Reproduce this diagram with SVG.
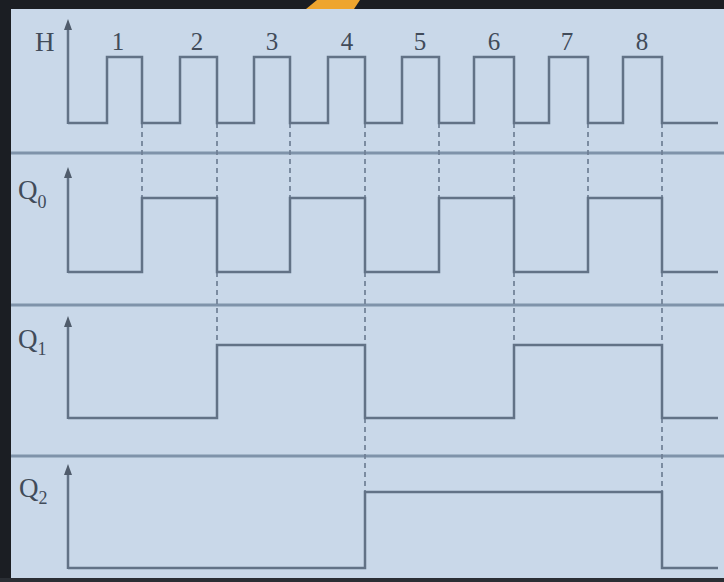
<svg xmlns="http://www.w3.org/2000/svg" width="724" height="582" viewBox="0 0 724 582">
<style>
.sig{fill:none;stroke:#627286;stroke-width:2.5;stroke-linejoin:miter}
.axis{fill:none;stroke:#627286;stroke-width:2.5}
.head{fill:#505c6c}
.sep{stroke:#7f93aa;stroke-width:3}
.dash{stroke:#6f7f95;stroke-width:1.7;stroke-dasharray:5 4}
.lbl{font-family:"Liberation Serif","Times New Roman",serif;fill:#414b59}
.num{font-family:"Liberation Serif","Times New Roman",serif;fill:#414b59;font-size:25px;text-anchor:middle}
</style>
<rect x="0" y="0" width="724" height="582" fill="#c9d8e9"/>
<rect x="0" y="0" width="724" height="9" fill="#1b1e23"/>
<rect x="0" y="0" width="11" height="582" fill="#1b1e23"/>
<rect x="0" y="578" width="724" height="4" fill="#2a2e34"/>
<polygon points="306,9 317,0 360,0 354,9" fill="#eea52e"/>

<g id="separators">
<line class="sep" x1="11" y1="153" x2="724" y2="153"/>
<line class="sep" x1="11" y1="305" x2="724" y2="305"/>
<line class="sep" x1="11" y1="456" x2="724" y2="456"/>
</g>

<g id="connectors">
<line class="dash" x1="142" y1="123" x2="142" y2="198"/>
<line class="dash" x1="217" y1="123" x2="217" y2="198"/>
<line class="dash" x1="217" y1="272" x2="217" y2="345"/>
<line class="dash" x1="290" y1="123" x2="290" y2="198"/>
<line class="dash" x1="365" y1="123" x2="365" y2="198"/>
<line class="dash" x1="365" y1="272" x2="365" y2="345"/>
<line class="dash" x1="365" y1="418" x2="365" y2="492"/>
<line class="dash" x1="439" y1="123" x2="439" y2="198"/>
<line class="dash" x1="514" y1="123" x2="514" y2="198"/>
<line class="dash" x1="514" y1="272" x2="514" y2="345"/>
<line class="dash" x1="588" y1="123" x2="588" y2="198"/>
<line class="dash" x1="662" y1="123" x2="662" y2="198"/>
<line class="dash" x1="662" y1="272" x2="662" y2="345"/>
<line class="dash" x1="662" y1="418" x2="662" y2="492"/>
</g>

<g id="H">
<line class="axis" x1="68" y1="124" x2="68" y2="28"/>
<polygon class="head" points="68,19 64,30 72,30"/>
<text class="lbl" x="35" y="51" font-size="27">H</text>
<path class="sig" d="M68,123 H107 V57 H142 V123 H180 V57 H217 V123 H254 V57 H290 V123 H328 V57 H365 V123 H402 V57 H439 V123 H474 V57 H514 V123 H549 V57 H588 V123 H623 V57 H662 V123 H718"/>
<text class="num" x="118" y="50">1</text>
<text class="num" x="197" y="50">2</text>
<text class="num" x="272" y="50">3</text>
<text class="num" x="347" y="50">4</text>
<text class="num" x="420" y="50">5</text>
<text class="num" x="494" y="50">6</text>
<text class="num" x="567" y="50">7</text>
<text class="num" x="642" y="50">8</text>
</g>

<g id="Q0">
<line class="axis" x1="68" y1="273" x2="68" y2="176"/>
<polygon class="head" points="68,167 64,178 72,178"/>
<text class="lbl" x="18" y="199" font-size="27">Q<tspan font-size="18" dy="9">0</tspan></text>
<path class="sig" d="M68,272 H142 V198 H217 V272 H290 V198 H365 V272 H439 V198 H514 V272 H588 V198 H662 V272 H718"/>
</g>

<g id="Q1">
<line class="axis" x1="68" y1="419" x2="68" y2="325"/>
<polygon class="head" points="68,316 64,327 72,327"/>
<text class="lbl" x="18" y="348" font-size="27">Q<tspan font-size="18" dy="7">1</tspan></text>
<path class="sig" d="M68,418 H217 V345 H365 V418 H514 V345 H662 V418 H718"/>
</g>

<g id="Q2">
<line class="axis" x1="68" y1="569" x2="68" y2="473"/>
<polygon class="head" points="68,464 64,475 72,475"/>
<text class="lbl" x="19" y="497" font-size="27">Q<tspan font-size="18" dy="7">2</tspan></text>
<path class="sig" d="M68,568 H365 V492 H662 V568 H718"/>
</g>
</svg>
